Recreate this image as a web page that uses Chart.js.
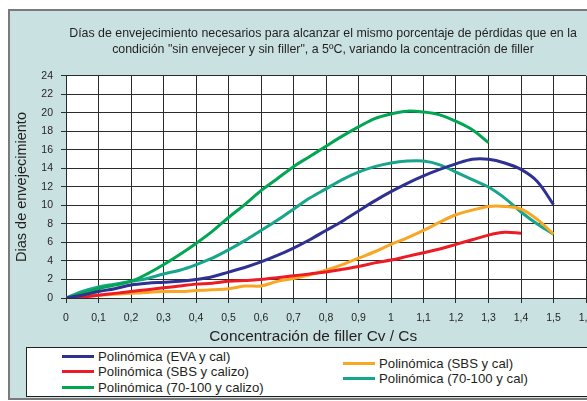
<!DOCTYPE html>
<html>
<head>
<meta charset="utf-8">
<script src="https://cdn.jsdelivr.net/npm/chart.js@4.4.1/dist/chart.umd.min.js"></script>
<style>
  body { margin: 0; width: 587px; height: 401px; overflow: hidden; background: #fff; position: relative;
         font-family: "Liberation Sans", Arial, sans-serif; color: #231f20; }
  #panel { position: absolute; left: 8px; top: 9px; width: 600px; height: 387px; background: #c9e2e1;
           border: 2px solid #7a7a7a; border-right: none; }
  #chart { position: absolute; left: 0; top: 0; }
  #legend { position: absolute; left: 26px; top: 347px; width: 600px; height: 48px; background: #fff;
            border: 1px solid #231f20; }
  .item { position: absolute; font-size: 13.2px; line-height: 15px; white-space: nowrap; }
  .item span { display: inline-block; width: 32px; height: 3px; vertical-align: middle; margin-right: 4px;
               position: relative; top: -1px; }
</style>
</head>
<body>
<div id="panel"></div>
<canvas id="chart" width="646" height="401"></canvas>
<div id="legend"></div>
<script>
// filler concentration Cv / Cs
const xs = [0, 0.05, 0.1, 0.15, 0.2, 0.25, 0.3, 0.35, 0.4, 0.45, 0.5, 0.55, 0.6, 0.65, 0.7, 0.75,
            0.8, 0.85, 0.9, 0.95, 1.0, 1.05, 1.1, 1.15, 1.2, 1.25, 1.3, 1.35, 1.4, 1.45, 1.5];

const evaCal = [0, 0.3, 0.7, 1.0, 1.4, 1.6, 1.7, 1.8, 2.0, 2.3, 2.8, 3.3, 3.9, 4.6, 5.4, 6.3,
                7.3, 8.3, 9.4, 10.5, 11.5, 12.4, 13.2, 13.9, 14.5, 15.0, 15.0, 14.6, 13.9, 12.6, 10.1];
const sbsCalizo = [0, 0.1, 0.3, 0.5, 0.7, 0.9, 1.1, 1.3, 1.5, 1.6, 1.8, 1.9, 2.0, 2.2, 2.4, 2.6,
                   2.8, 3.1, 3.4, 3.8, 4.1, 4.5, 4.9, 5.3, 5.8, 6.3, 6.8, 7.1, 7.0];
const calizo70 = [0, 0.5, 1.0, 1.4, 1.8, 2.6, 3.6, 4.7, 5.9, 7.2, 8.7, 10.1, 11.6, 12.9, 14.2, 15.3,
                  16.4, 17.5, 18.5, 19.4, 19.9, 20.2, 20.1, 19.8, 19.1, 18.2, 16.8];
const sbsCal = [0, 0.2, 0.3, 0.4, 0.5, 0.6, 0.7, 0.7, 0.8, 0.9, 1.0, 1.3, 1.3, 1.8, 2.1, 2.5,
                3.0, 3.6, 4.3, 5.0, 5.8, 6.5, 7.3, 8.2, 9.0, 9.5, 9.9, 9.9, 9.6, 8.5, 6.9];
const cal70 = [0, 0.7, 1.2, 1.5, 1.8, 2.1, 2.6, 3.0, 3.6, 4.3, 5.2, 6.2, 7.3, 8.4, 9.6, 10.8,
               11.8, 12.8, 13.6, 14.2, 14.6, 14.8, 14.8, 14.4, 13.6, 12.8, 12.0, 10.8, 9.3, 8.0, 6.9];

const labels = ['Polinómica (EVA y cal)', 'Polinómica (SBS y calizo)', 'Polinómica (70-100 y calizo)',
                'Polinómica (SBS y cal)', 'Polinómica (70-100 y cal)'];
const colors = ['#2e3192', '#ed1c24', '#00a651', '#f8a623', '#17a58b'];
const series = [evaCal, sbsCalizo, calizo70, sbsCal, cal70];

const fmt = v => Number(v.toFixed(1)).toString().replace('.', ',');

const plotBg = {
  id: 'plotBg',
  beforeDraw(chart) {
    const {ctx, chartArea: a} = chart;
    ctx.save();
    ctx.fillStyle = '#fff';
    ctx.fillRect(a.left, a.top, a.right - a.left, a.bottom - a.top);
    ctx.restore();
  }
};

const chart = new Chart(document.getElementById('chart'), {
  type: 'line',
  data: {
    datasets: series.map((s, i) => ({
      label: labels[i],
      data: s.map((y, j) => ({x: xs[j], y: y})),
      borderColor: colors[i],
      backgroundColor: colors[i],
      borderWidth: 3,
      pointRadius: 0,
      tension: 0.35,
      fill: false
    }))
  },
  options: {
    responsive: false,
    animation: false,
    layout: { padding: { left: 0, right: 0, top: 0, bottom: 52 } },
    plugins: {
      legend: { display: false },
      tooltip: { enabled: false },
      title: {
        display: true,
        text: ['Días de envejecimiento necesarios para alcanzar el mismo porcentaje de pérdidas que en la',
               'condición "sin envejecer y sin filler", a 5ºC, variando la concentración de filler'],
        color: '#231f20',
        font: { family: 'Liberation Sans', size: 12.4, weight: 'normal', lineHeight: 1.29 },
        padding: { top: 26, bottom: 18 }
      }
    },
    scales: {
      x: {
        type: 'linear', min: 0, max: 1.6,
        afterFit(scale) { scale.height = 51; },
        ticks: { stepSize: 0.1, color: '#231f20', padding: 9, maxRotation: 0, autoSkip: false,
                 font: { family: 'Liberation Sans', size: 10.5 }, callback: v => fmt(v) },
        grid: { color: '#2b2b2b', lineWidth: 1, tickLength: 5 },
        border: { color: '#2b2b2b' },
        title: { display: true, text: 'Concentración de filler Cv / Cs\u00a0\u00a0\u00a0\u00a0\u00a0\u00a0', color: '#231f20',
                 font: { family: 'Liberation Sans', size: 15.4 }, padding: { top: 3, bottom: 3 } }
      },
      y: {
        min: 0, max: 24,
        afterFit(scale) { scale.width = 66; },
        ticks: { stepSize: 2, color: '#231f20', padding: 8,
                 font: { family: 'Liberation Sans', size: 10.5 } },
        grid: { color: '#2b2b2b', lineWidth: 1, tickLength: 5 },
        border: { color: '#2b2b2b' },
        title: { display: true, text: 'Dias de envejecimiento', color: '#231f20',
                 font: { family: 'Liberation Sans', size: 14.5 }, padding: { top: 13, bottom: 4 } }
      },
      // empty right-hand axis: keeps the plot edge at 1,6 while the title centres like the original
      yRight: {
        position: 'right', min: 0, max: 24,
        afterFit(scale) { scale.width = 60; },
        ticks: { display: false },
        grid: { display: false },
        border: { display: false }
      }
    }
  },
  plugins: [plotBg]
});

// legend laid out in two columns like the original
const slots = [[35, 9], [35, 24], [35, 40], [316, 16], [316, 31]];
const legend = document.getElementById('legend');
chart.data.datasets.forEach((ds, i) => {
  const el = document.createElement('div');
  el.className = 'item';
  el.style.left = slots[i][0] + 'px';
  el.style.top = (slots[i][1] - 8) + 'px';
  el.innerHTML = '<span style="background:' + ds.borderColor + '"></span>' + ds.label;
  legend.appendChild(el);
});
</script>
</body>
</html>
